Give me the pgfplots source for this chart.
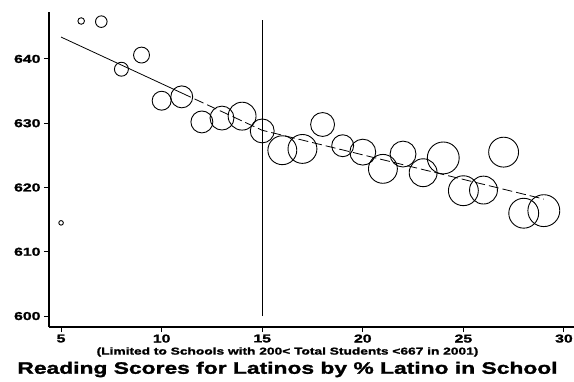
\documentclass[border=0pt]{standalone}
\usepackage{pgfplots}
\pgfplotsset{compat=1.18}
\usepackage{pgfplotstable}
\usepackage{fontspec}
\setmainfont{Liberation Sans}
\newfontfamily\heavy{Liberation Sans}[FakeStretch=1.38, BoldFeatures={FakeBold=1.6}]
\pgfplotstableread{
x y r
5 614.5 2.3
6 645.9 3.3
7 645.8 5.8
8 638.4 7
9 640.6 8
10 633.5 9.5
11 634.1 11
12 630.2 11
13 630.8 12
14 631.1 14
15 628.8 12
16 625.8 14.5
17 626.0 14.5
18 629.8 12
19 626.5 11
20 625.5 13
21 622.9 14.5
22 625.2 13
23 622.3 14
24 624.6 16
25 619.5 15
26 619.6 14
27 625.5 15
28 616.0 15
29 616.4 16
}\circles
\begin{document}
\begin{tikzpicture}[x=1bp,y=1bp]
\path[use as bounding box] (-49,-54) rectangle (525,327);
\begin{axis}[
  at={(0,0)}, anchor=south west,
  scale only axis, width=525bp, height=315bp,
  xmin=4.4, xmax=30.5, ymin=598.3, ymax=647.3,
  axis x line*=bottom, axis y line*=left,
  axis line style={line width=1.4pt,-},
  xtick={5,10,15,20,25,30}, ytick={600,610,620,630,640},
  tick align=outside, major tick length=5bp,
  tick style={line width=1pt,black},
  /pgf/number format/assume math mode=true,
  tick label style={font=\heavy\bfseries\fontsize{11.5}{11.5}\selectfont},
  xticklabel style={yshift=1bp},
  clip=false,
]
\addplot[scatter, only marks, mark=o, mark options={line width=0.9pt, black, draw=black, fill=none},
  scatter/use mapped color={draw=black},
  visualization depends on={\thisrow{r}\as\rad},
  scatter/@pre marker code/.append style={/tikz/mark size=\rad}]
  table[x=x,y=y]{\circles};
\addplot[black, line width=0.8pt, no marks] coordinates {(5,643.4) (11,634.7)};
\addplot[black, line width=0.8pt, no marks, dash pattern=on 10bp off 4bp] coordinates {(11,634.7) (15,628.9) (29,618.2)};
\addplot[black, line width=1.2pt, no marks] coordinates {(15,600) (15,646.1)};
\end{axis}
\node[font=\heavy\bfseries\fontsize{10}{10}\selectfont] at (238.5,-25) {(Limited to Schools with 200< Total Students <667 in 2001)};
\node[font=\heavy\bfseries\fontsize{16.6}{16.6}\selectfont] at (238.5,-42.5) {Reading Scores for Latinos by \% Latino in School};
\end{tikzpicture}
\end{document}
